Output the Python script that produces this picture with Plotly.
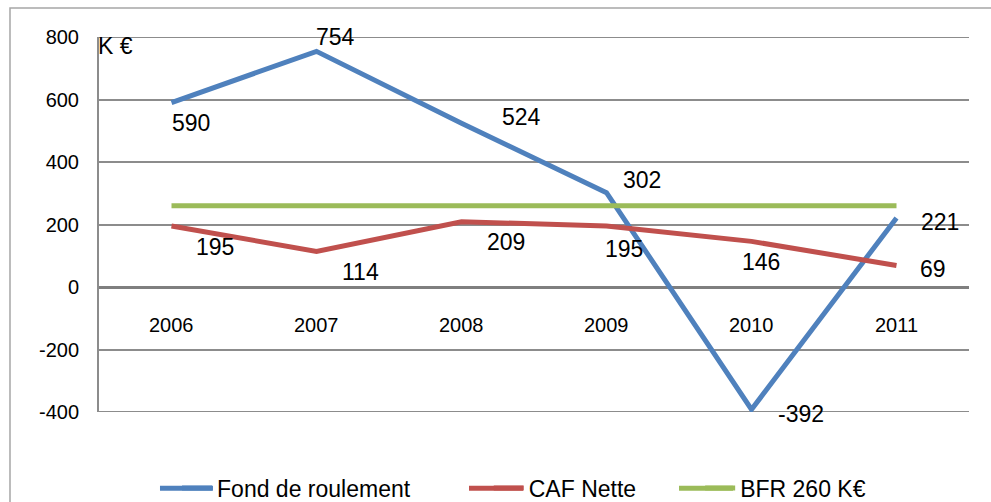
import plotly.graph_objects as go

years = ["2006", "2007", "2008", "2009", "2010", "2011"]
fond_roulement = [590, 754, 524, 302, -392, 221]
caf_nette = [195, 114, 209, 195, 146, 69]
bfr = [260, 260, 260, 260, 260, 260]
y_ticks = [-400, -200, 0, 200, 400, 600, 800]
y_tick_text = ["-400", "-200", "0", "200", "400", "600", "800"]
series_names = ["Fond de roulement", "CAF Nette", "BFR 260 K€"]

# label offsets (pixels) — styling only
fond_dx = [19, 19, 60, 35, 49, 43]
fond_dy = [-20, 14, 6, 13, -4, -4]
caf_dx = [43, 44, 44, 17, 9, 36]
caf_dy = [-21, -21, -20, -23, -21, -4]
legend_x = [0.0897, 0.448, 0.691]
legend_line_x = [(0.0701, 0.1310), (0.4253, 0.4874), (0.6667, 0.7287)]

FONT = "Liberation Sans"
xs = list(range(len(years)))
colors = ["#4F81BD", "#C0504D", "#9BBB59"]
series = [fond_roulement, caf_nette, bfr]
legend_ids = ["legend", "legend2", "legend3"]

fig = go.Figure()
for s, name, c, lid in zip(series, series_names, colors, legend_ids):
    fig.add_trace(go.Scatter(x=xs, y=s, mode="lines", name=name, legend=lid,
                             line=dict(color=c, width=5)))

ann = []
for i, v in enumerate(fond_roulement):
    ann.append(dict(x=xs[i], y=v, text=str(v), showarrow=False, xshift=fond_dx[i], yshift=fond_dy[i],
                    font=dict(size=23, color="#000000", family=FONT)))
for i, v in enumerate(caf_nette):
    ann.append(dict(x=xs[i], y=v, text=str(v), showarrow=False, xshift=caf_dx[i], yshift=caf_dy[i],
                    font=dict(size=23, color="#000000", family=FONT)))
for i, yr in enumerate(years):
    ann.append(dict(x=xs[i], y=0, text=yr, showarrow=False, yshift=-38,
                    font=dict(size=20, color="#000000", family=FONT)))
ann.append(dict(x=0, xref="paper", xanchor="left", y=800, yanchor="middle", yshift=-9, xshift=-3,
                text="K €", showarrow=False, font=dict(size=23, color="#000000", family=FONT)))

leg_common = dict(orientation="h", y=-0.203, yanchor="middle", xanchor="left",
                  font=dict(size=23, family=FONT, color="#000000"), bgcolor="rgba(0,0,0,0)")
layout_legends = {}
for lid, lx in zip(legend_ids, legend_x):
    layout_legends[lid] = dict(leg_common, x=lx)

shapes = [dict(type="rect", xref="paper", yref="paper", x0=-0.1023, x1=1.04, y0=-0.3, y1=1.0773,
               line=dict(color="#A6A6A6", width=1.5), fillcolor="rgba(0,0,0,0)", layer="below")]
# boundary gridlines that plotly omits at the range edges
for yv in (min(y_ticks), max(y_ticks)):
    shapes.append(dict(type="line", xref="paper", yref="y", x0=0, x1=1, y0=yv, y1=yv,
                       line=dict(color="#8C8C8C", width=2), layer="below"))
for (x0, x1), c in zip(legend_line_x, colors):
    shapes.append(dict(type="line", xref="paper", yref="paper", x0=x0, x1=x1, y0=-0.203, y1=-0.203,
                       line=dict(color=c, width=5)))

fig.update_layout(
    template="none",
    width=991, height=502,
    margin=dict(l=99, r=22, t=37, b=90, autoexpand=False),
    paper_bgcolor="white", plot_bgcolor="white",
    font=dict(family=FONT, color="#000000"),
    showlegend=True,
    annotations=ann,
    shapes=shapes,
    **layout_legends,
)
fig.update_xaxes(range=[-0.5, len(years) - 0.5], showticklabels=False, showgrid=False,
                 zeroline=False, showline=False, ticks="", automargin=False)
fig.update_yaxes(range=[-400, 800], tickvals=y_ticks, ticktext=y_tick_text, showgrid=True,
                 gridcolor="#8C8C8C", gridwidth=2,
                 zeroline=True, zerolinecolor="#7F7F7F", zerolinewidth=3,
                 showline=True, linecolor="#8C8C8C", linewidth=2, ticks="", automargin=False,
                 ticklabelstandoff=14, tickfont=dict(size=20, family=FONT, color="#000000"))

fig.write_html("out.html", config={"displayModeBar": False},
               post_script="document.body.style.margin='0';document.body.style.overflow='hidden';")
